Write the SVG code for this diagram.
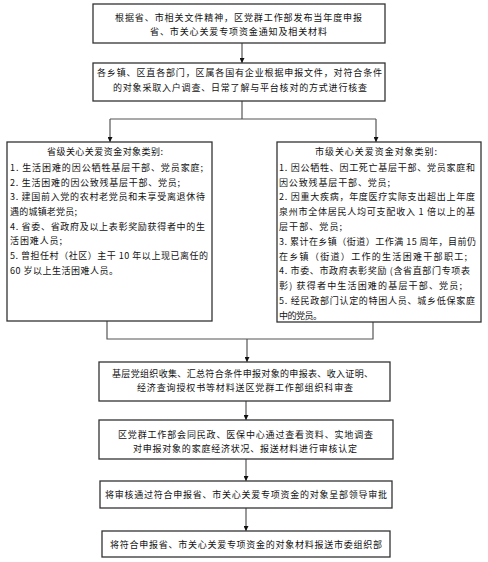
<svg xmlns="http://www.w3.org/2000/svg" width="488" height="562" viewBox="0 0 488 562">
<defs>
<marker id="ah" viewBox="0 0 10 10" refX="10" refY="5" markerWidth="5" markerHeight="5" orient="auto" markerUnits="userSpaceOnUse">
<path d="M0,0 L10,5 L0,10 z" fill="#111"/>
</marker>
</defs>
<style>
rect.box{fill:#fff;stroke:#333;stroke-width:1.3}
text{font-family:"Noto Sans CJK SC","Liberation Serif",sans-serif;font-size:9px;fill:#111}
.c{text-anchor:middle}
.ln{fill:none;stroke:#555;stroke-width:1.2}
.ar{fill:none;stroke:#555;stroke-width:1.2;marker-end:url(#ah)}
</style>
<rect width="488" height="562" fill="#fff"/>
<g id="connectors">
<line class="ar" x1="242" y1="43" x2="242" y2="63"/>
<polyline class="ln" points="242,101 242,119"/>
<polyline class="ar" points="110,119 110,142"/>
<polyline class="ar" points="376,119 376,142"/>
<line class="ln" x1="110" y1="119" x2="376" y2="119"/>
<polyline class="ln" points="107,321 107,339 373,339 373,322"/>
<line class="ar" x1="247" y1="339" x2="247" y2="362"/>
<line class="ar" x1="246" y1="401" x2="246" y2="420"/>
<line class="ar" x1="246" y1="459" x2="246" y2="481"/>
<line class="ar" x1="246" y1="508" x2="246" y2="531"/>
</g>
<g id="n1">
<rect class="box" x="93" y="4" width="292" height="39"/>
<text x="115" y="21" textLength="247" lengthAdjust="spacing">根据省、市相关文件精神，区党群工作部发布当年度申报</text>
<text x="150" y="35" textLength="177" lengthAdjust="spacing">省、市关心关爱专项资金通知及相关材料</text>
</g>
<g id="n2">
<rect class="box" x="93" y="63" width="292" height="38"/>
<text x="97" y="76" textLength="285" lengthAdjust="spacing">各乡镇、区直各部门，区属各国有企业根据申报文件，对符合条件</text>
<text x="113" y="91" textLength="254" lengthAdjust="spacing">的对象采取入户调查、日常了解与平台核对的方式进行核查</text>
</g>
<g id="n3">
<rect class="box" x="7" y="142" width="205" height="179"/>
<text x="47" y="155" textLength="116" lengthAdjust="spacing">省级关心关爱资金对象类别:</text>
<text x="10" y="170.8" textLength="193" lengthAdjust="spacing">1. 生活困难的因公牺牲基层干部、党员家庭;</text>
<text x="10" y="185.5" textLength="170" lengthAdjust="spacing">2. 生活困难的因公致残基层干部、党员;</text>
<text x="10" y="200.2" textLength="195" lengthAdjust="spacing">3. 建国前入党的农村老党员和未享受离退休待</text>
<text x="10" y="214.9" textLength="67" lengthAdjust="spacing">遇的城镇老党员;</text>
<text x="10" y="229.6" textLength="195" lengthAdjust="spacing">4. 省委、省政府及以上表彰奖励获得者中的生</text>
<text x="10" y="244.3" textLength="52" lengthAdjust="spacing">活困难人员;</text>
<text x="10" y="259" textLength="198" lengthAdjust="spacing">5. 曾担任村（社区）主干 10 年以上现已离任的</text>
<text x="10" y="273.7" textLength="108" lengthAdjust="spacing">60 岁以上生活困难人员。</text>
</g>
<g id="n4">
<rect class="box" x="277" y="142" width="204" height="180"/>
<text x="315" y="155" textLength="122" lengthAdjust="spacing">市级关心关爱资金对象类别:</text>
<text x="279" y="170.8" textLength="196" lengthAdjust="spacing">1. 因公牺牲、因工死亡基层干部、党员家庭和</text>
<text x="279" y="185.6" textLength="111" lengthAdjust="spacing">因公致残基层干部、党员;</text>
<text x="279" y="200.4" textLength="196" lengthAdjust="spacing">2. 因重大疾病，年度医疗实际支出超出上年度</text>
<text x="279" y="215.2" textLength="196" lengthAdjust="spacing">泉州市全体居民人均可支配收入 1 倍以上的基</text>
<text x="279" y="230" textLength="63" lengthAdjust="spacing">层干部、党员;</text>
<text x="279" y="244.8" textLength="197" lengthAdjust="spacing">3. 累计在乡镇（街道）工作满 15 周年，目前仍</text>
<text x="279" y="259.6" textLength="188" lengthAdjust="spacing">在乡镇（街道）工作的生活困难干部职工;</text>
<text x="279" y="274.4" textLength="191" lengthAdjust="spacing">4. 市委、市政府表彰奖励 (含省直部门专项表</text>
<text x="279" y="289.2" textLength="183" lengthAdjust="spacing">彰) 获得者中生活困难的基层干部、党员;</text>
<text x="279" y="304" textLength="196" lengthAdjust="spacing">5. 经民政部门认定的特困人员、城乡低保家庭</text>
<text x="279" y="318.8" textLength="43" lengthAdjust="spacing">中的党员。</text>
</g>
<g id="n5">
<rect class="box" x="99" y="362" width="291" height="39"/>
<text x="112" y="377" textLength="261" lengthAdjust="spacing">基层党组织收集、汇总符合条件申报对象的申报表、收入证明、</text>
<text x="137" y="391" textLength="216" lengthAdjust="spacing">经济查询授权书等材料送区党群工作部组织科审查</text>
</g>
<g id="n6">
<rect class="box" x="99" y="420" width="294" height="39"/>
<text x="118" y="438" textLength="255" lengthAdjust="spacing">区党群工作部会同民政、医保中心通过查看资料、实地调查</text>
<text x="133" y="452" textLength="224" lengthAdjust="spacing">对申报对象的家庭经济状况、报送材料进行审核认定</text>
</g>
<g id="n7">
<rect class="box" x="100" y="481" width="292" height="27"/>
<text x="105" y="498" textLength="282" lengthAdjust="spacing">将审核通过符合申报省、市关心关爱专项资金的对象呈部领导审批</text>
</g>
<g id="n8">
<rect class="box" x="102" y="531" width="288" height="26"/>
<text x="110" y="548" textLength="272" lengthAdjust="spacing">将符合申报省、市关心关爱专项资金的对象材料报送市委组织部</text>
</g>
</svg>
